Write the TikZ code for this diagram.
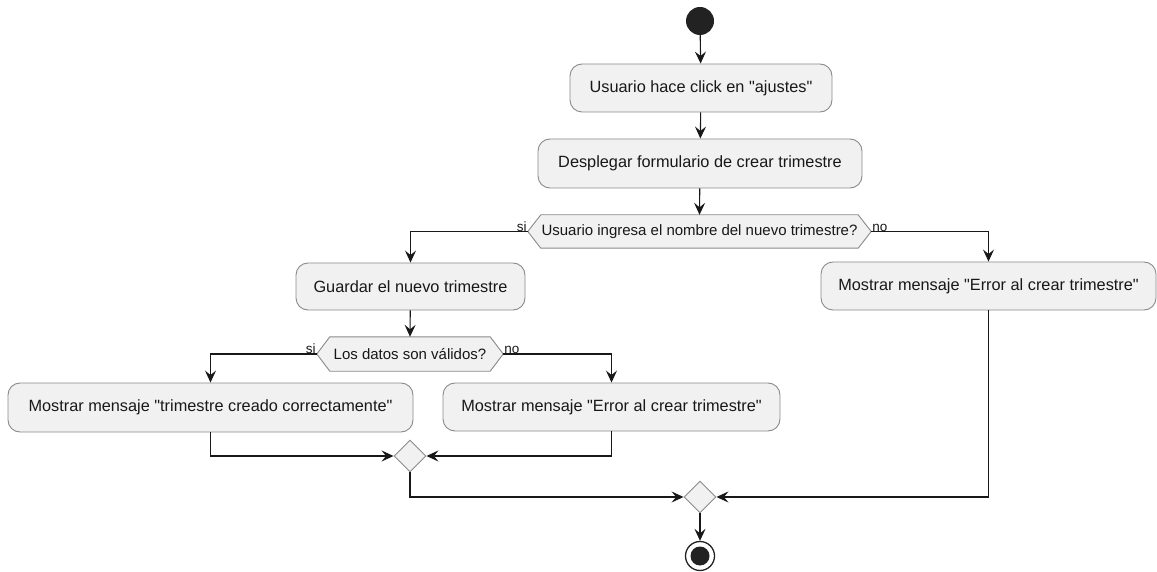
\documentclass[tikz,border=0pt]{standalone}
\usepackage{fontspec}
\setmainfont{Liberation Sans}
\usetikzlibrary{arrows.meta,shapes.geometric}

\definecolor{boxfill}{HTML}{F1F1F1}
\definecolor{boxline}{HTML}{8A8A8A}
\definecolor{ink}{HTML}{181818}
\definecolor{dot}{HTML}{222222}

\newcommand{\qq}{\textquotedbl}

\tikzset{
  every node/.style={font=\fontsize{16.3}{19}\selectfont, text=ink},
  action/.style={rectangle, rounded corners=12pt, draw=boxline, fill=boxfill,
    line width=0.9pt, inner sep=0pt},
  hexslot/.style={rectangle, inner sep=0pt},
  hexline/.style={draw=boxline, fill=boxfill, line width=0.9pt},
  hextext/.style={font=\fontsize{15}{17}\selectfont},
  merge/.style={diamond, draw=boxline, fill=boxfill, line width=0.9pt,
    inner sep=0pt, minimum width=32pt, minimum height=32pt},
  startdot/.style={circle, fill=dot, inner sep=0pt, minimum size=28pt},
  enddot/.style={circle, draw=dot, fill=white, line width=1.3pt, inner sep=0pt,
    minimum size=29pt,
    path picture={\fill[dot] (path picture bounding box.center) circle (9.5pt);}},
  flow/.style={draw=ink, line width=1.1pt,
    -{Stealth[length=12pt,width=11pt,inset=4.5pt]}},
  guard/.style={font=\fontsize{13.5}{15}\selectfont, inner sep=1pt}
}

% hexagonal decision box drawn around an invisible slot node
\newcommand{\hexbox}[1]{%
  \path[hexline] (#1.west) -- ([xshift=13pt]#1.north west)
    -- ([xshift=-13pt]#1.north east) -- (#1.east)
    -- ([xshift=-13pt]#1.south east) -- ([xshift=13pt]#1.south west) -- cycle;}

\begin{document}
\begin{tikzpicture}[x=1pt, y=-1pt]
  \useasboundingbox (0,0) rectangle (1157,572);

  % nodes
  \node[startdot] (start) at (700,21) {};
  \node[action, minimum width=262pt, minimum height=48pt] (b1) at (701,88)
    {Usuario hace click en \qq ajustes\qq};
  \node[action, minimum width=324pt, minimum height=49pt] (b2) at (700,163.5)
    {Desplegar formulario de crear trimestre};

  \node[hexslot, minimum width=343pt, minimum height=33pt] (d1) at (699.5,231.5) {};
  \hexbox{d1}
  \node[hextext] at (d1) {Usuario ingresa el nombre del nuevo trimestre?};

  \node[action, minimum width=229pt, minimum height=47pt] (b3) at (410.5,286.5)
    {Guardar el nuevo trimestre};
  \node[action, minimum width=335pt, minimum height=48pt] (b4) at (988.5,286)
    {Mostrar mensaje \qq Error al crear trimestre\qq};

  \node[hexslot, minimum width=186pt, minimum height=34pt] (d2) at (410,354) {};
  \hexbox{d2}
  \node[hextext] at (d2) {Los datos son válidos?};

  \node[action, minimum width=405pt, minimum height=49pt] (b5) at (210.5,407.5)
    {Mostrar mensaje \qq trimestre creado correctamente\qq};
  \node[action, minimum width=337pt, minimum height=48pt] (b6) at (611.5,407)
    {Mostrar mensaje \qq Error al crear trimestre\qq};

  \node[merge] (m1) at (410,456) {};
  \node[merge] (m2) at (700,497) {};
  \node[enddot] (end) at (700,556) {};

  % guard labels
  \node[guard, anchor=south east] at ([yshift=-1pt]d1.west) {si};
  \node[guard, anchor=south west] at ([yshift=-1pt]d1.east) {no};
  \node[guard, anchor=south east] at ([yshift=-1pt]d2.west) {si};
  \node[guard, anchor=south west] at ([yshift=-1pt]d2.east) {no};

  % connectors
  \draw[flow] (start) -- (b1);
  \draw[flow] (b1) -- (b2);
  \draw[flow] (b2) -- (d1.north);
  \draw[flow] (d1.west) -| (b3.north);
  \draw[flow] (d1.east) -| (b4.north);
  \draw[flow] (b3) -- (d2.north);
  \draw[flow] (d2.west) -| (b5.north);
  \draw[flow] (d2.east) -| (b6.north);
  \draw[flow] (b5.south) |- (m1.west);
  \draw[flow] (b6.south) |- (m1.east);
  \draw[flow] (m1.south) |- (m2.west);
  \draw[flow] (b4.south) |- (m2.east);
  \draw[flow] (m2) -- (end);
\end{tikzpicture}
\end{document}
